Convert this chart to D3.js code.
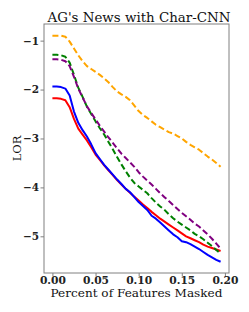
<!DOCTYPE html>
<html><head><meta charset="utf-8">
<script src="https://d3js.org/d3.v7.min.js"></script>
<style>body{margin:0;background:#fff}svg{display:block}</style>
</head><body>
<script>
const xs = d3.range(40).map(i => +(i * 0.005).toFixed(3));
const orange = [-0.90,-0.90,-0.90,-0.92,-1.02,-1.16,-1.30,-1.42,-1.52,-1.58,-1.64,-1.70,-1.77,-1.85,-1.95,-2.04,-2.10,-2.15,-2.22,-2.33,-2.44,-2.52,-2.58,-2.65,-2.72,-2.77,-2.82,-2.87,-2.90,-2.95,-3.00,-3.07,-3.13,-3.18,-3.23,-3.30,-3.37,-3.43,-3.50,-3.58];
const green = [-1.29,-1.29,-1.30,-1.33,-1.45,-1.70,-1.96,-2.15,-2.35,-2.50,-2.65,-2.79,-2.92,-3.07,-3.22,-3.38,-3.53,-3.67,-3.80,-3.91,-3.98,-4.05,-4.12,-4.22,-4.31,-4.39,-4.46,-4.55,-4.63,-4.70,-4.76,-4.82,-4.88,-4.95,-5.00,-5.06,-5.13,-5.20,-5.28,-5.35];
const purple = [-1.38,-1.38,-1.39,-1.42,-1.52,-1.74,-1.98,-2.16,-2.34,-2.48,-2.61,-2.74,-2.86,-2.98,-3.09,-3.20,-3.31,-3.40,-3.49,-3.58,-3.69,-3.78,-3.86,-3.94,-4.03,-4.12,-4.20,-4.28,-4.36,-4.44,-4.52,-4.59,-4.66,-4.74,-4.80,-4.88,-4.96,-5.05,-5.15,-5.25];
const blue = [-1.94,-1.94,-1.95,-1.98,-2.12,-2.45,-2.68,-2.83,-2.96,-3.12,-3.30,-3.42,-3.54,-3.64,-3.74,-3.84,-3.93,-4.03,-4.10,-4.20,-4.30,-4.38,-4.46,-4.58,-4.64,-4.72,-4.80,-4.88,-4.96,-5.02,-5.10,-5.12,-5.16,-5.21,-5.26,-5.32,-5.38,-5.43,-5.48,-5.52];
const red = [-2.18,-2.18,-2.19,-2.22,-2.36,-2.60,-2.80,-2.92,-3.04,-3.18,-3.33,-3.44,-3.55,-3.65,-3.75,-3.85,-3.94,-4.03,-4.11,-4.19,-4.27,-4.35,-4.42,-4.50,-4.57,-4.64,-4.70,-4.76,-4.82,-4.88,-4.94,-5.00,-5.04,-5.08,-5.12,-5.17,-5.21,-5.24,-5.27,-5.30];
const xTicks = [0, 0.05, 0.10, 0.15, 0.20];
const yTicks = [-1, -2, -3, -4, -5];
const title = "AG's News with Char-CNN";
const xLabel = "Percent of Features Masked";
const yLabel = "LOR";

const series = [
  {v: orange, color: "orange", dash: "6,3"},
  {v: purple, color: "purple", dash: "6,3"},
  {v: green, color: "green", dash: "6,3"},
  {v: red, color: "red", dash: null},
  {v: blue, color: "blue", dash: null}
];

const W = 249, H = 312;
const L = 44, R = 229, T = 24, B = 273;
const svg = d3.select("body").append("svg").attr("width", W).attr("height", H);
const x = d3.scaleLinear().domain([-0.00975, 0.20475]).range([L, R]);
const y = d3.scaleLinear().domain([-0.66, -5.75]).range([T, B]);

const line = d3.line().x((d, i) => x(xs[i])).y(d => y(d));
const draw = [series[3], series[4], series[0], series[2], series[1]];
svg.append("g").selectAll("path").data(draw).join("path")
  .attr("d", d => line(d.v))
  .attr("fill", "none")
  .attr("stroke", d => d.color)
  .attr("stroke-width", 2)
  .attr("stroke-dasharray", d => d.dash)
  .attr("stroke-linejoin", "round");

svg.append("rect").attr("x", L).attr("y", T).attr("width", R - L).attr("height", B - T)
  .attr("fill", "none").attr("stroke", "#808080").attr("stroke-width", 1);

const xa = svg.append("g").attr("transform", `translate(0,${B})`)
  .call(d3.axisBottom(x).tickValues(xTicks).tickFormat(d3.format(".2f")).tickSize(3.5).tickPadding(0));
const ya = svg.append("g").attr("transform", `translate(${L},0)`)
  .call(d3.axisLeft(y).tickValues(yTicks).tickFormat(d => "\u2212" + Math.abs(d)).tickSize(3.5).tickPadding(1.5));
[xa, ya].forEach(a => {
  a.select(".domain").remove();
  a.selectAll("line").attr("stroke", "#808080");
  a.selectAll("text").attr("font-family", "DejaVu Serif").attr("font-weight", "bold")
    .attr("font-size", 10.5).attr("fill", "#222");
});
xa.selectAll("text").attr("textLength", 26).attr("lengthAdjust", "spacingAndGlyphs");

svg.append("text").attr("x", 139).attr("y", 21.5).attr("text-anchor", "middle")
  .attr("font-family", "DejaVu Serif").attr("font-size", 12.8).attr("fill", "#111")
  .attr("textLength", 183).attr("lengthAdjust", "spacingAndGlyphs").text(title);
svg.append("text").attr("x", 136.5).attr("y", 297).attr("text-anchor", "middle")
  .attr("font-family", "DejaVu Serif").attr("font-size", 10.8).attr("fill", "#111")
  .attr("textLength", 172).attr("lengthAdjust", "spacingAndGlyphs").text(xLabel);
svg.append("text").attr("transform", `translate(21,${(T + B) / 2}) rotate(-90)`).attr("text-anchor", "middle")
  .attr("font-family", "DejaVu Serif").attr("font-size", 11.5).attr("fill", "#111").text(yLabel);
</script>
</body></html>
